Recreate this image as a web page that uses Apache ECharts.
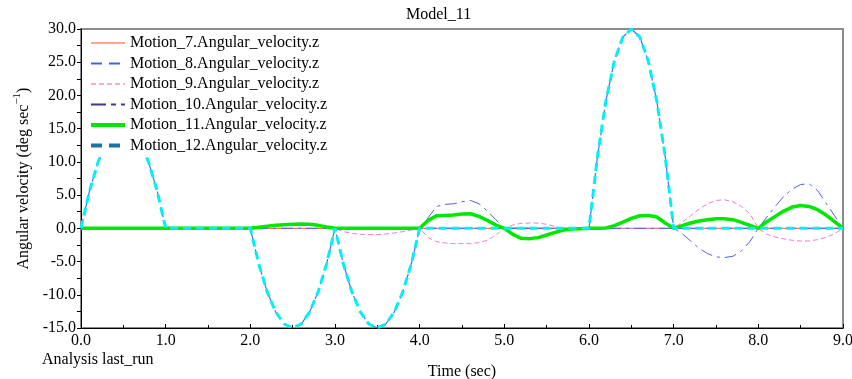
<!DOCTYPE html>
<html>
<head>
<meta charset="utf-8">
<style>
  html, body { margin: 0; padding: 0; background: #fff; }
  #chart { width: 852px; height: 379px; }
</style>
<script src="https://cdn.jsdelivr.net/npm/echarts@6/dist/echarts.min.js"></script>
</head>
<body>
<div id="chart"></div>
<script>
// Model_11 angular velocity plot. [time s, deg/s].
const FONT = 'Liberation Serif';
const INK = '#000000';
const FRAME = '#8c8c8c';

const seriesNames = [
  'Motion_7.Angular_velocity.z',
  'Motion_8.Angular_velocity.z',
  'Motion_9.Angular_velocity.z',
  'Motion_10.Angular_velocity.z',
  'Motion_11.Angular_velocity.z',
  'Motion_12.Angular_velocity.z',
];

const motion7 = [[0, 0], [9, 0]];

const motion12 = [
  [0, 0], [0.1, 5.6], [0.2, 9.9], [0.3, 13.0], [0.4, 14.9], [0.5, 15.5],
  [0.6, 14.9], [0.7, 13.0], [0.8, 9.9], [0.9, 5.6], [1.0, 0],
  [2.0, 0], [2.1, -5.4], [2.2, -9.6], [2.3, -12.6], [2.4, -14.4], [2.5, -15],
  [2.6, -14.4], [2.7, -12.6], [2.8, -9.6], [2.9, -5.4], [3.0, 0],
  [3.1, -5.4], [3.2, -9.6], [3.3, -12.6], [3.4, -14.4], [3.5, -15],
  [3.6, -14.4], [3.7, -12.6], [3.8, -9.6], [3.9, -5.4], [4.0, 0],
  [6.0, 0], [6.1, 10.8], [6.2, 19.2], [6.3, 25.2], [6.4, 28.8], [6.5, 30],
  [6.6, 28.8], [6.7, 25.2], [6.8, 19.2], [6.9, 10.8], [7.0, 0],
  [9.0, 0],
];

// Motion_8 runs underneath the cyan curve in the picture
const motion8 = motion12;

const motion9 = [
  [0, 0], [3.0, 0],
  [3.1, -0.5], [3.2, -0.75], [3.3, -0.9], [3.4, -0.95], [3.5, -0.95],
  [3.6, -0.85], [3.7, -0.7], [3.8, -0.5], [3.9, -0.25], [4.0, 0],
  [4.1, -1.4], [4.2, -2.0], [4.3, -2.2], [4.4, -2.3], [4.5, -2.3],
  [4.6, -2.3], [4.7, -2.15], [4.8, -1.8], [4.9, -1.0], [5.0, 0],
  [5.1, 0.5], [5.2, 0.75], [5.3, 0.8], [5.4, 0.8], [5.5, 0.6], [5.6, 0.25], [5.7, 0],
  [7.0, 0],
  [7.1, 0.9], [7.2, 1.9], [7.3, 2.9], [7.4, 3.7], [7.5, 4.2],
  [7.6, 4.3], [7.7, 4.0], [7.8, 3.3], [7.9, 2.2], [8.0, 0],
  [8.1, -0.9], [8.2, -1.3], [8.3, -1.6], [8.4, -1.8], [8.5, -1.9],
  [8.6, -1.9], [8.7, -1.7], [8.8, -1.35], [8.9, -0.8], [9.0, 0],
];

const motion10 = [
  [0, 0], [4.0, 0],
  [4.1, 1.6], [4.2, 3.3], [4.3, 3.6], [4.4, 3.7], [4.5, 4.0],
  [4.6, 4.2], [4.7, 3.7], [4.8, 2.6], [4.9, 1.3], [5.0, 0],
  [7.0, 0],
  [7.1, -0.8], [7.2, -1.9], [7.3, -3.0], [7.4, -3.8], [7.5, -4.3],
  [7.6, -4.4], [7.7, -4.2], [7.8, -3.4], [7.9, -2.0], [8.0, 0],
  [8.1, 1.7], [8.2, 3.3], [8.3, 4.8], [8.4, 5.9], [8.5, 6.6],
  [8.6, 6.7], [8.7, 5.7], [8.8, 3.8], [8.9, 1.9], [9.0, 0],
];

const motion11 = [
  [0, 0], [2.0, 0],
  [2.1, 0.15], [2.2, 0.3], [2.3, 0.45], [2.4, 0.55], [2.5, 0.6],
  [2.6, 0.65], [2.7, 0.6], [2.8, 0.45], [2.9, 0.2], [3.0, 0],
  [4.0, 0],
  [4.1, 1.2], [4.2, 1.9], [4.3, 1.95], [4.4, 2.0], [4.5, 2.15],
  [4.6, 2.2], [4.7, 1.8], [4.8, 1.2], [4.9, 0.5], [5.0, 0],
  [5.1, -0.9], [5.2, -1.5], [5.3, -1.55], [5.4, -1.4], [5.5, -1.0],
  [5.6, -0.6], [5.7, -0.25], [5.8, -0.1], [5.9, -0.05], [6.0, 0],
  [6.1, 0], [6.2, 0.05], [6.3, 0.4], [6.4, 0.95], [6.5, 1.5],
  [6.6, 1.9], [6.7, 1.95], [6.8, 1.7], [6.9, 0.8], [7.0, 0],
  [7.1, 0.4], [7.2, 0.8], [7.3, 1.1], [7.4, 1.3], [7.5, 1.45],
  [7.6, 1.45], [7.7, 1.3], [7.8, 0.9], [7.9, 0.45], [8.0, 0],
  [8.1, 1.0], [8.2, 1.8], [8.3, 2.6], [8.4, 3.2], [8.5, 3.45],
  [8.6, 3.3], [8.7, 2.8], [8.8, 2.0], [8.9, 1.0], [9.0, 0],
];

const seriesData = [motion7, motion8, motion9, motion10, motion11, motion12];

// plot styles; legend swatches differ for Motion_10 / Motion_12 as in the picture
const plotStyles = [
  { color: '#ff5a1e', width: 1, type: 'solid' },
  { color: '#4b6cf2', width: 1.2, type: [10, 6] },
  { color: '#f37ad6', width: 1, type: [5, 3] },
  { color: '#4f5fe0', width: 1, type: [12, 5, 3, 5] },
  { color: '#00e800', width: 3.5, type: 'solid' },
  { color: '#00f0f8', width: 3, type: [8, 5] },
];
const legendStyles = [
  { color: '#ff4a10', width: 1, type: 'solid' },
  { color: '#3f62f0', width: 2, type: [11, 7] },
  { color: '#f0609e', width: 1, type: [5, 3] },
  { color: '#3c3c88', width: 2, type: [15, 5, 5, 5] },
  { color: '#00e800', width: 4, type: 'solid' },
  { color: '#1a73a6', width: 4, type: [11, 7] },
];

const chart = echarts.init(document.getElementById('chart'));

const textBase = { color: INK, fontFamily: FONT, fontSize: 16 };

chart.setOption({
  animation: false,
  backgroundColor: '#ffffff',
  title: {
    text: 'Model_11',
    left: 401, top: 2,
    textStyle: { ...textBase, fontWeight: 'normal' },
  },
  grid: {
    left: 81, right: 9, top: 29, bottom: 51,
    outerBoundsMode: 'none',
    containLabel: false,
    show: true, borderColor: FRAME, borderWidth: 2,
  },
  legend: {
    orient: 'vertical',
    left: 85, top: 33,
    padding: [2, 8, 2, 4],
    backgroundColor: '#ffffff',
    itemWidth: 34, itemHeight: 15, itemGap: 4.5,
    textStyle: textBase,
    // line swatches only, no symbol dot
    data: seriesNames.map((name, i) => ({
      name,
      lineStyle: legendStyles[i],
      itemStyle: { opacity: 0 },
    })),
  },
  xAxis: {
    type: 'value', min: 0, max: 9, interval: 1,
    name: 'Time (sec)', nameLocation: 'middle', nameGap: 36,
    nameTextStyle: textBase,
    axisLine: { onZero: false, lineStyle: { color: INK, width: 1 } },
    axisTick: { inside: true, length: 4, lineStyle: { color: INK } },
    minorTick: { show: true, splitNumber: 2, length: 3, lineStyle: { color: INK } },
    axisLabel: { ...textBase, margin: 5, formatter: (v) => v.toFixed(1) },
    splitLine: { show: false },
  },
  yAxis: {
    type: 'value', min: -15, max: 30, interval: 5,
    name: '{a|Angular velocity (deg sec}{s|−1}{a|)}',
    nameLocation: 'middle', nameGap: 47,
    nameTextStyle: {
      ...textBase,
      rich: {
        a: { ...textBase, lineHeight: 20, verticalAlign: 'bottom' },
        s: { color: INK, fontFamily: FONT, fontSize: 11, lineHeight: 20, verticalAlign: 'top' },
      },
    },
    axisLine: { lineStyle: { color: INK, width: 1 } },
    axisTick: { length: 4, lineStyle: { color: INK } },
    minorTick: { show: true, splitNumber: 2, length: 4, lineStyle: { color: INK } },
    axisLabel: { ...textBase, margin: 5, formatter: (v) => v.toFixed(1) },
    splitLine: { show: false },
  },
  graphic: [{
    type: 'text', left: 42, top: 352,
    style: { text: 'Analysis last_run', fill: INK, font: `16px "${FONT}"` },
  }],
  series: seriesNames.map((name, i) => ({
    name,
    type: 'line',
    data: seriesData[i],
    symbol: 'none',
    silent: true,
    clip: true,
    color: plotStyles[i].color,
    lineStyle: { ...plotStyles[i] },
  })),
});
</script>
</body>
</html>
